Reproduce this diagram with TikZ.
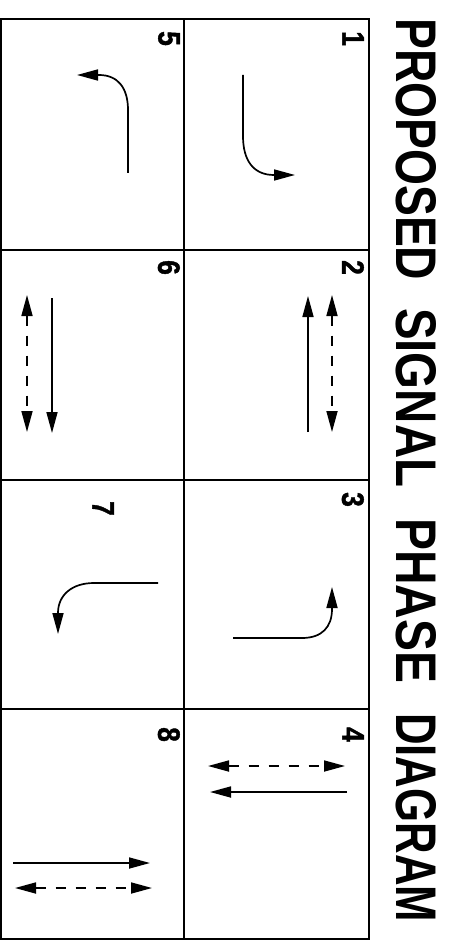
\documentclass[tikz,border=0pt]{standalone}
\usepackage{fontspec}
\setmainfont{Liberation Sans}
\newfontfamily\heavynum[FakeBold=1.5]{Liberation Sans Bold}
\usetikzlibrary{arrows.meta}
\tikzset{
  gridline/.style={line width=2.3pt},
  mv/.style={line width=1.7pt, -{Triangle[length=21pt,width=11pt]}},
  ped/.style={line width=1.7pt, dash pattern=on 10pt off 10pt,
    {Triangle[length=21pt,width=11pt]}-{Triangle[length=21pt,width=11pt]}},
  numlbl/.style={rotate=-90, anchor=north west, inner sep=0pt},
  ttl/.style={rotate=-90, anchor=south west, inner sep=0pt}
}
\newcommand{\digitbox}[1]{\scalebox{0.85}[1]{\fontsize{31}{31}\heavynum #1}}
\newcommand{\wordbox}[2]{\resizebox{#1pt}{40pt}{\bfseries #2}}
\begin{document}
\begin{tikzpicture}[x=1pt,y=-1pt]
\useasboundingbox (0,0) rectangle (461,941);
% title
\node[ttl] (t1) at (396,18) {\wordbox{262}{PROPOSED}};
\node[ttl] (t2) at (396,308) {\wordbox{179}{SIGNAL}};
\node[ttl] (t3) at (396,518) {\wordbox{165}{PHASE}};
\node[ttl] (t4) at (396,713) {\wordbox{209}{DIAGRAM}};
% grid
\draw[gridline] (1,19) rectangle (369,939);
\draw[gridline] (184,19) -- (184,939);
\draw[gridline] (1,250) -- (369,250);
\draw[gridline] (1,480) -- (369,480);
\draw[gridline] (1,709) -- (369,709);
% phase numbers
\node[numlbl] (n1) at (364,31) {\digitbox{1}};
\node[numlbl] (n5) at (180,31) {\digitbox{5}};
\node[numlbl] (n2) at (364,260) {\digitbox{2}};
\node[numlbl] (n6) at (180,260) {\digitbox{6}};
\node[numlbl] (n3) at (364,492) {\digitbox{3}};
\node[numlbl] (n7) at (114,501) {\digitbox{7}};
\node[numlbl] (n4) at (364,727) {\digitbox{4}};
\node[numlbl] (n8) at (180,727) {\digitbox{8}};
% phase 1
\draw[mv] (243,75) -- (243,136) .. controls (243,160) and (253,175) .. (274,175) -- (295,175);
% phase 5
\draw[mv] (128,173) -- (128,110) .. controls (128,88) and (118,75) .. (99,75) -- (77,75);
% phase 2
\draw[mv] (308,432) -- (308,296);
\draw[ped] (332,295) -- (332,432);
% phase 6
\draw[ped] (27,295) -- (27,432);
\draw[mv] (52,298) -- (52,433);
% phase 3
\draw[mv] (233,638) -- (302,638) .. controls (322,638) and (332,627) .. (332,609) -- (332,587);
% phase 7
\draw[mv] (158,583) -- (94,583) .. controls (72,583) and (58,595) .. (58,613) -- (58,634);
% phase 4
\draw[ped] (208,766) -- (345,766);
\draw[mv] (347,792) -- (210,792);
% phase 8
\draw[mv] (13,863) -- (150,863);
\draw[ped] (15,888) -- (152,888);
\end{tikzpicture}
\end{document}
